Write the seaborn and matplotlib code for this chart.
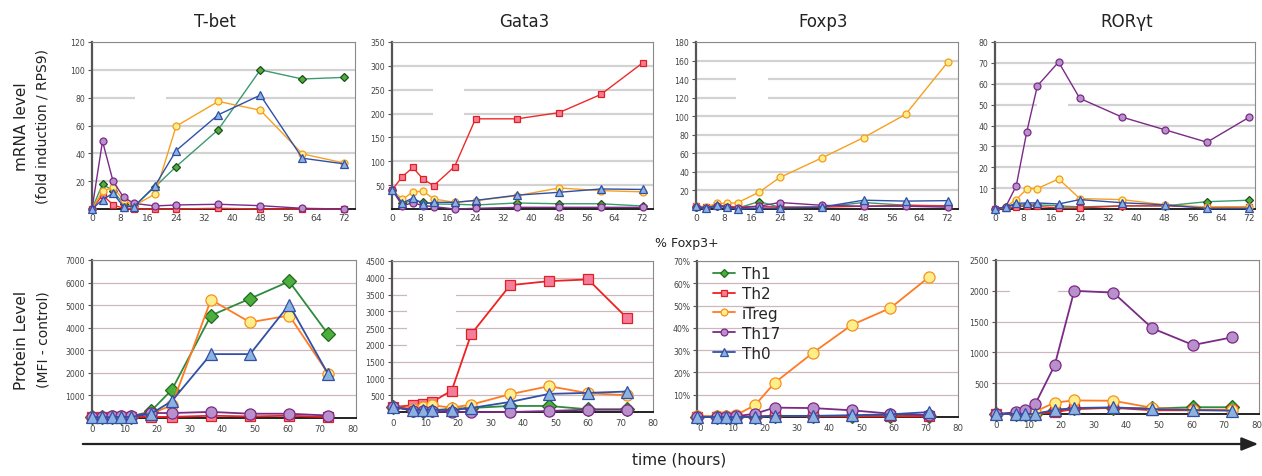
import matplotlib
matplotlib.use("Agg")
import matplotlib.pyplot as plt
from matplotlib.ticker import FuncFormatter
import seaborn as sns

sns.set_style("white")
plt.rcParams["font.family"] = ["DejaVu Sans"]

# ---------------- data ----------------
SUBSETS = ["Th1", "Th2", "iTreg", "Th17", "Th0"]

# mRNA time course (hours)
T_MRNA = [0, 3, 6, 9, 12, 18, 24, 36, 48, 60, 72]

TBET_MRNA = {
    "Th1":   [0, 18, 13, 3.6, 2, 16, 30.5, 57, 100, 93.4, 94.6],
    "Th2":   [0, 10, 3, 0.5, 0, 0, 0, 0.5, 0, 0, 0],
    "iTreg": [0, 12.7, 15.6, 6.5, 2.4, 10.8, 59.5, 77.3, 71, 39.6, 33],
    "Th17":  [0, 48.7, 20, 8.4, 4, 2.2, 2.9, 3.4, 2.4, 0.5, 0],
    "Th0":   [0, 6.7, 11.3, 1.7, 1.7, 16.8, 42, 67.7, 81.8, 36.5, 32.4],
}
GATA3_MRNA = {
    "Th1":   [40, 12, 17.5, 15, 10.5, 10, 8.4, 12.6, 11, 11, 6.3],
    "Th2":   [40, 68, 87, 62, 49, 89, 189, 189, 202, 240, 306],
    "iTreg": [40, 20, 36, 37, 21, 14, 17.5, 28, 44, 38.5, 36],
    "Th17":  [40, 7, 13, 7, 5, 0, 1.4, 3.5, 3.5, 3.5, 3.5],
    "Th0":   [40, 12.6, 23, 10.5, 14, 14, 18, 29, 35, 42, 41],
}
FOXP3_MRNA = {
    "Th1":   [2, 1, 3, 2, 1, 8, 2, 2, 7, 4, 3],
    "Th2":   [3, 2, 4, 3, 2, 3, 2, 2, 3, 4, 3.5],
    "iTreg": [3, 2.5, 6, 6, 7, 18, 34, 55, 77, 102, 158],
    "Th17":  [2, 1, 3, 2, 1, 3, 7, 4, 3, 3, 2],
    "Th0":   [3, 1, 4, 2, 0, 1, 1, 2, 9.5, 8.5, 9],
}
RORGT_MRNA = {
    "Th1":   [0, 1, 2, 2, 2, 1.5, 1, 1.5, 1.5, 3.5, 4.2],
    "Th2":   [0, 0.3, 1, 1.5, 1.2, 0.5, 0.5, 1.5, 1.5, 0.8, 1],
    "iTreg": [0, 1, 4.5, 9.6, 9.8, 14.4, 5, 4.5, 2, 1, 1],
    "Th17":  [0, 1, 11, 37, 59, 70.4, 53, 44, 38, 32, 44],
    "Th0":   [0, 1, 2.7, 2.9, 2.9, 2.4, 4.5, 3, 2, 0.3, 0.3],
}

# protein time courses (hours)
T_TBET_PROT = [0, 3, 6, 9, 12, 18, 24.5, 36.5, 48.5, 60.5, 72.5]
TBET_PROT = {
    "Th1":   [50, 50, 60, 60, 60, 295, 1250, 4540, 5290, 6050, 3700],
    "Th2":   [40, 40, 50, 50, 50, 50, 50, 100, 70, 100, 40],
    "iTreg": [60, 60, 80, 90, 90, 190, 560, 5240, 4240, 4540, 1960],
    "Th17":  [50, 60, 100, 110, 100, 220, 220, 270, 190, 190, 110],
    "Th0":   [40, 30, 40, 50, 50, 180, 750, 2830, 2830, 5020, 1930],
}
T_GATA3_PROT = [0, 6, 9, 12, 18, 24, 36, 48, 60, 72]
GATA3_PROT = {
    "Th1":   [150, 50, 40, 50, 100, 120, 180, 180, 80, 80],
    "Th2":   [150, 200, 250, 300, 640, 2320, 3780, 3900, 3950, 2800],
    "iTreg": [150, 100, 150, 200, 130, 220, 530, 770, 560, 500],
    "Th17":  [150, 40, 30, 20, 0, 0, 0, 30, 70, 70],
    "Th0":   [150, 70, 70, 70, 50, 120, 300, 540, 570, 610],
}
T_FOXP3_PROT = [-1, 5, 8, 11, 17, 23, 35, 47, 59, 71]
FOXP3_PROT = {
    "Th1":   [0, 0, 0, 0, 0.2, 0.5, 0.5, 0.5, 0.5, 0.5],
    "Th2":   [0, 0, 0, 0, 0.2, 0.5, 0.3, 0.3, 0.3, 0.3],
    "iTreg": [0.5, 0.3, 0.3, 0.8, 5.4, 15.3, 28.9, 41.3, 48.9, 62.8],
    "Th17":  [0, 0.2, 0.2, 0.3, 1.5, 4.2, 4.0, 3.0, 1.5, 0.8],
    "Th0":   [0, 0, 0, 0, 0, 0.5, 0.5, 0.8, 1.2, 2.2],
}
T_RORGT_PROT = [0, 6, 9, 12, 18, 24, 36, 48, 60.5, 72.5]
RORGT_PROT = {
    "Th1":   [0, 0, 0, 0, 60, 90, 100, 90, 110, 110],
    "Th2":   [0, 0, 0, 0, 30, 80, 100, 60, 60, 60],
    "iTreg": [0, 10, 20, 40, 185, 220, 215, 100, 70, 70],
    "Th17":  [0, 27, 70, 157, 790, 2000, 1970, 1390, 1120, 1245],
    "Th0":   [0, 0, 0, 0, 65, 97, 108, 80, 65, 55],
}

GENES = ["T-bet", "Gata3", "Foxp3", "RORγt"]

# ---------------- styles ----------------
STYLE_TOP = {
    "Th1":   dict(color="#3a9b6e", marker="D", mfc="#4fae3c", mec="#1e4e1e"),
    "Th2":   dict(color="#ee2a2a", marker="s", mfc="#f47c94", mec="#e02020"),
    "iTreg": dict(color="#f7a020", marker="o", mfc="#ffef8a", mec="#f59a20"),
    "Th17":  dict(color="#7b2a86", marker="o", mfc="#b890cc", mec="#7b2a86"),
    "Th0":   dict(color="#3050a8", marker="^", mfc="#8eb2e0", mec="#3050a8"),
}
STYLE_BOT = {
    "Th1":   dict(color="#2e8b3e", marker="D", mfc="#4caf3c", mec="#1f6a1f"),
    "Th2":   dict(color="#ee2222", marker="s", mfc="#f47c9c", mec="#e02020"),
    "iTreg": dict(color="#ff7a22", marker="o", mfc="#ffef8a", mec="#f59020"),
    "Th17":  dict(color="#7b2a86", marker="o", mfc="#b890cc", mec="#7b2a86"),
    "Th0":   dict(color="#3050a8", marker="^", mfc="#8eb2e0", mec="#3050a8"),
}
MSIZE_TOP = {"D": 4.2, "s": 4.3, "o": 5.0, "^": 5.6}
MSIZE_BOT = {"D": 6.8, "s": 6.8, "o": 8.0, "^": 8.6}

W, H = 1262, 477
fig = plt.figure(figsize=(W / 100, H / 100), dpi=100)


def add_ax(l, t, r, b):
    return fig.add_axes([l / W, 1 - b / H, (r - l) / W, (b - t) / H])


def style_axes(ax, xlim, ylim, xticks, yticks, top_row, gaps=()):
    ax.set_xlim(*xlim)
    ax.set_ylim(*ylim)
    ax.set_xticks(xticks)
    ax.set_yticks(yticks)
    ax.set_axisbelow(True)
    if top_row:
        ax.grid(axis="y", color="#d2d2d2", linewidth=1.6)
    else:
        ax.grid(axis="y", color="#ccb8bc", linewidth=0.9)
    ax.grid(axis="x", visible=False)
    for y, x0, x1 in gaps:
        ax.hlines(y, x0, x1, color="white", linewidth=3, zorder=0.8)
    ax.spines["left"].set_color("#555555")
    ax.spines["left"].set_linewidth(1.6)
    ax.spines["bottom"].set_color("#111111")
    ax.spines["bottom"].set_linewidth(1.3)
    for s in ("top", "right"):
        ax.spines[s].set_color("#8a8a8a")
        ax.spines[s].set_linewidth(0.8)
    ax.tick_params(axis="y", length=3, width=0.8, color="#555555",
                   labelsize=5.6, labelcolor="#444444", pad=2, left=True)
    ax.tick_params(axis="x", length=0, labelsize=6.6 if top_row else 6.2,
                   labelcolor="#444444", pad=3 if top_row else 4)
    ax.set_xlabel("")
    ax.set_ylabel("")


def draw(ax, times, series, styles, msizes, lw):
    for z, name in enumerate(SUBSETS):
        st = styles[name]
        sns.lineplot(x=times, y=series[name], ax=ax, sort=False,
                     estimator=None, color=st["color"], linewidth=lw,
                     marker=st["marker"], markersize=msizes[st["marker"]],
                     markerfacecolor=st["mfc"], markeredgecolor=st["mec"],
                     markeredgewidth=0.9, clip_on=False, zorder=3 + z,
                     label=name)
    if ax.get_legend() is not None:
        ax.get_legend().remove()


# ---------------- top row: mRNA ----------------
top_boxes = [(92, 43, 355, 210), (392, 43, 653, 210),
             (696, 43, 958, 210), (995, 43, 1255, 210)]
top_data = [TBET_MRNA, GATA3_MRNA, FOXP3_MRNA, RORGT_MRNA]
top_ylim = [120, 350, 180, 80]
top_ystep = [20, 50, 20, 10]
top_xmax = [75, 75, 75, 73.6]
top_gaps = [
    [(80, 12.2, 21.1)],
    [(250, 11.7, 20.6), (200, 11.7, 20.6)],
    [(140, 11.5, 20.5), (120, 11.5, 20.5)],
    [(50, 12.0, 20.8)],
]
for box, data, ymax, ystep, xmax, gaps in zip(top_boxes, top_data, top_ylim,
                                              top_ystep, top_xmax, top_gaps):
    ax = add_ax(*box)
    draw(ax, T_MRNA, data, STYLE_TOP, MSIZE_TOP, 1.0)
    style_axes(ax, (0, xmax), (0, ymax), range(0, 73, 8),
               range(ystep, ymax + 1, ystep), True, gaps)

# ---------------- bottom row: protein ----------------
bot_boxes = [(92, 261, 356, 419), (392, 262, 653, 413),
             (697, 262, 958, 418), (996, 261, 1259, 415)]
bot_times = [T_TBET_PROT, T_GATA3_PROT, T_FOXP3_PROT, T_RORGT_PROT]
bot_data = [TBET_PROT, GATA3_PROT, FOXP3_PROT, RORGT_PROT]
bot_ylim = [7000, 4500, 70, 2500]
bot_ystep = [1000, 500, 10, 500]
bot_xlim = [(0, 81), (-0.4, 80), (-1.1, 80), (0, 80.7)]
bot_gaps = [
    [],
    [(v, 4.2, 19.2) for v in (3500, 3000, 2500, 2000)],
    [],
    [(2000, 4.3, 19.0)],
]
bot_axes = []
for box, t, data, ymax, ystep, xl, gaps in zip(bot_boxes, bot_times, bot_data,
                                               bot_ylim, bot_ystep, bot_xlim,
                                               bot_gaps):
    ax = add_ax(*box)
    draw(ax, t, data, STYLE_BOT, MSIZE_BOT, 1.3)
    style_axes(ax, xl, (0, ymax), range(0, 81, 10),
               range(ystep, ymax + 1, ystep), False, gaps)
    bot_axes.append(ax)

bot_axes[2].yaxis.set_major_formatter(FuncFormatter(lambda v, p: f"{v:.0f}%"))

# legend inside the Foxp3 protein panel
leg_ax = bot_axes[2]
leg_ax.legend(handles=leg_ax.get_lines()[:5], labels=SUBSETS,
              loc="upper left", bbox_to_anchor=(713 / W, 1 - 267 / H),
              bbox_transform=fig.transFigure, frameon=False,
              fontsize=11, markerscale=0.62, handlelength=1.45,
              handletextpad=0.45, labelspacing=0.32, borderpad=0,
              borderaxespad=0)

# ---------------- text ----------------
for x, gene in zip([215, 524, 823, 1127], GENES):
    fig.text(x / W, 1 - 22 / H, gene, ha="center", va="center",
             fontsize=12, color="#222222")

fig.text(22 / W, 1 - 127 / H, "mRNA level", rotation=90, ha="center",
         va="center", fontsize=11, color="#222222")
fig.text(43 / W, 1 - 127 / H, "(fold induction / RPS9)", rotation=90,
         ha="center", va="center", fontsize=10, color="#222222")
fig.text(22 / W, 1 - 340 / H, "Protein Level", rotation=90, ha="center",
         va="center", fontsize=11, color="#222222")
fig.text(43 / W, 1 - 340 / H, "(MFI - control)", rotation=90, ha="center",
         va="center", fontsize=10, color="#222222")

fig.text(687 / W, 1 - 244 / H, "% Foxp3+", ha="center", va="center",
         fontsize=9, color="#222222")

# time arrow along the bottom
fig.patches.append(matplotlib.patches.FancyArrowPatch(
    (80 / W, 1 - 445 / H), (1261 / W, 1 - 445 / H),
    transform=fig.transFigure, arrowstyle="-|>,head_length=10,head_width=4",
    color="#222222", linewidth=1.6, mutation_scale=1))
fig.text(679 / W, 1 - 460 / H, "time (hours)", ha="center", va="center",
         fontsize=11, color="#222222")

fig.savefig("out.png", dpi=100, facecolor="white")
